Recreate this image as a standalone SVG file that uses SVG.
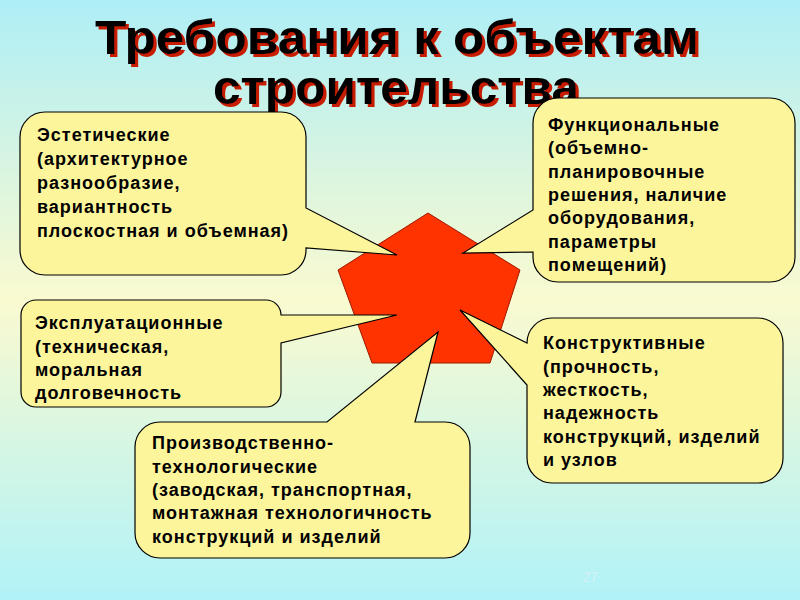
<svg xmlns="http://www.w3.org/2000/svg" width="800" height="600" viewBox="0 0 800 600">
<defs>
<linearGradient id="bg" x1="0" y1="0" x2="0" y2="1">
<stop offset="0" stop-color="#aeeef6"/>
<stop offset="0.5" stop-color="#fafad0"/>
<stop offset="1" stop-color="#b0f2f8"/>
</linearGradient>
<filter id="shadow" x="-5%" y="-20%" width="110%" height="140%">
<feOffset in="SourceAlpha" dx="3" dy="3" result="off"/>
<feFlood flood-color="#c81e00"/>
<feComposite in2="off" operator="in" result="sh"/>
<feMerge><feMergeNode in="sh"/><feMergeNode in="SourceGraphic"/></feMerge>
</filter>
<style>
.call{fill:#fdf59b;stroke:#000;stroke-width:1.2;stroke-linejoin:miter}
.t{font-family:"Liberation Sans",Arial,sans-serif;font-weight:bold;font-size:18px;fill:#000;letter-spacing:1px}
.title{font-family:"Liberation Sans",Arial,sans-serif;font-weight:bold;font-size:48px;fill:#000}
</style>
</defs>
<rect width="800" height="600" fill="url(#bg)"/>
<g id="title" filter="url(#shadow)">
<text class="title" x="397" y="54" text-anchor="middle" textLength="604" lengthAdjust="spacingAndGlyphs">Требования к объектам</text>
<text class="title" x="396" y="104" text-anchor="middle" textLength="366" lengthAdjust="spacingAndGlyphs">строительства</text>
</g>
<g id="center">
<polygon points="428,213 520,270 490,363 372,363 338,270" fill="#ff3300" stroke="#a01800" stroke-width="1"/>
</g>
<g id="connectors"/>
<g id="aesthetic">
<path class="call" d="M45,112 H281 A25,25 0 0 1 306,137 V208 L397,255 L306,248 V250 A25,25 0 0 1 281,275 H45 A25,25 0 0 1 20,250 V137 A25,25 0 0 1 45,112 Z"/>
<text class="t" x="37" y="141">Эстетические</text>
<text class="t" x="37" y="165">(архитектурное</text>
<text class="t" x="37" y="189">разнообразие,</text>
<text class="t" x="37" y="213">вариантность</text>
<text class="t" x="37" y="237">плоскостная и объемная)</text>
</g>
<g id="functional">
<path class="call" d="M558,98 H770 A25,25 0 0 1 795,123 V257 A25,25 0 0 1 770,282 H558 A25,25 0 0 1 533,257 V252 L463,253 L533,210 V123 A25,25 0 0 1 558,98 Z"/>
<text class="t" x="548" y="131">Функциональные</text>
<text class="t" x="548" y="154">(объемно-</text>
<text class="t" x="548" y="178">планировочные</text>
<text class="t" x="548" y="201">решения, наличие</text>
<text class="t" x="548" y="224">оборудования,</text>
<text class="t" x="548" y="248">параметры</text>
<text class="t" x="548" y="271">помещений)</text>
</g>
<g id="operational">
<path class="call" d="M36,300 H266 A15,15 0 0 1 281,315 L397,315 L281,343 V392 A15,15 0 0 1 266,407 H36 A15,15 0 0 1 21,392 V315 A15,15 0 0 1 36,300 Z"/>
<text class="t" x="35" y="329">Эксплуатационные</text>
<text class="t" x="35" y="353">(техническая,</text>
<text class="t" x="35" y="376">моральная</text>
<text class="t" x="35" y="399">долговечность</text>
</g>
<g id="production">
<path class="call" d="M160,422 H327 L438,332 L415,422 H445 A25,25 0 0 1 470,447 V533 A25,25 0 0 1 445,558 H160 A25,25 0 0 1 135,533 V447 A25,25 0 0 1 160,422 Z"/>
<text class="t" x="152" y="449">Производственно-</text>
<text class="t" x="152" y="473">технологические</text>
<text class="t" x="152" y="496">(заводская, транспортная,</text>
<text class="t" x="152" y="519">монтажная технологичность</text>
<text class="t" x="152" y="543">конструкций и изделий</text>
</g>
<g id="structural">
<path class="call" d="M552,318 H758 A25,25 0 0 1 783,343 V458 A25,25 0 0 1 758,483 H552 A25,25 0 0 1 527,458 V385 L460,310 L527,343 A25,25 0 0 1 552,318 Z"/>
<text class="t" x="543" y="349">Конструктивные</text>
<text class="t" x="543" y="373">(прочность,</text>
<text class="t" x="543" y="396">жесткость,</text>
<text class="t" x="543" y="419">надежность</text>
<text class="t" x="543" y="443">конструкций, изделий</text>
<text class="t" x="543" y="466">и узлов</text>
</g>
<text x="590" y="582" font-family="Liberation Sans,Arial,sans-serif" font-size="14" fill="#d4f2f6" text-anchor="middle">27</text>
</svg>
